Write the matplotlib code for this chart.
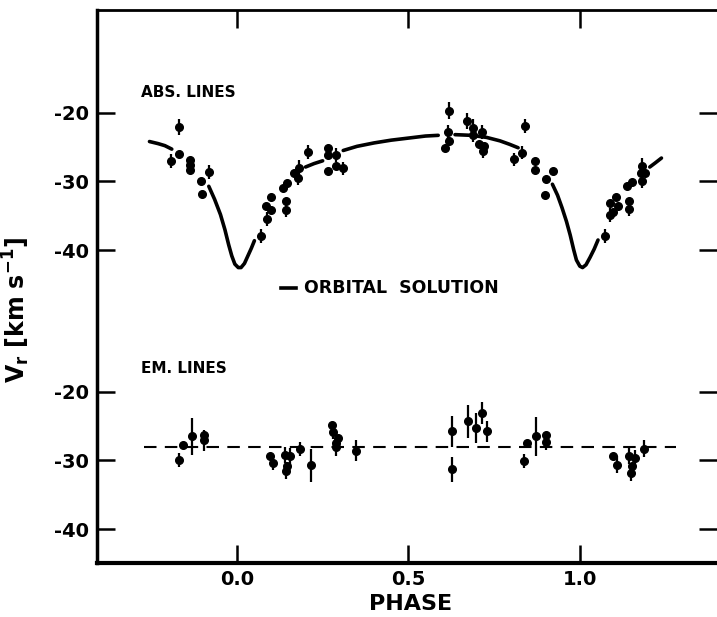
import numpy as np
import matplotlib
matplotlib.use("Agg")
import matplotlib.pyplot as plt

plt.rcParams["font.family"] = ["DejaVu Sans"]
plt.rcParams["font.weight"] = "bold"

# absorption lines: phase, velocity, error
abs_phase = [-0.192, -0.168, -0.170, -0.136, -0.137, -0.136, -0.105, -0.102, -0.081,
             0.070, 0.086, 0.088, 0.100, 0.100, 0.135, 0.145, 0.143, 0.143, 0.166,
             0.181, 0.178, 0.208, 0.266, 0.265, 0.266, 0.290, 0.290, 0.310,
             0.619, 0.616, 0.619, 0.606, 0.670, 0.689, 0.688, 0.716, 0.706, 0.720,
             0.718, 0.808, 0.830, 0.839, 0.869, 0.868, 0.900, 0.922, 0.899,
             1.072, 1.087, 1.097, 1.087, 1.105, 1.112, 1.139, 1.151, 1.142, 1.144,
             1.182, 1.178, 1.190, 1.182]
abs_v = [-27.0, -22.1, -26.0, -26.9, -27.6, -28.4, -29.9, -31.8, -28.6,
         -37.9, -33.5, -35.4, -32.3, -34.1, -30.9, -30.2, -32.9, -34.1, -28.8,
         -28.1, -29.5, -25.7, -25.2, -26.2, -28.5, -26.1, -27.8, -28.1,
         -19.7, -22.8, -24.1, -25.1, -21.2, -22.2, -23.3, -22.8, -24.5, -24.9,
         -25.6, -26.8, -25.8, -21.9, -27.0, -28.4, -29.6, -28.5, -31.9,
         -37.9, -34.9, -34.5, -33.1, -32.3, -33.6, -30.7, -30.1, -32.8, -34.0,
         -27.8, -28.8, -28.8, -30.0]
abs_err = [1.0, 1.2, 0, 0, 0, 0, 0, 0, 1.0,
           1.0, 0, 1.0, 0, 0, 0, 0, 0, 1.0, 0,
           1.2, 1.0, 1.0, 0, 0, 0, 1.0, 0, 1.0,
           1.2, 1.0, 0, 0, 1.2, 1.2, 1.0, 1.0, 0, 0,
           1.0, 1.0, 1.0, 1.0, 0, 0, 0, 0, 0,
           1.0, 1.0, 0, 0, 0, 0, 0, 0, 0, 1.0,
           1.2, 0, 0, 1.0]

# emission lines
em_phase = [-0.168, -0.157, -0.130, -0.097, -0.097, 0.096, 0.104, 0.140, 0.145, 0.143,
            0.155, 0.184, 0.217, 0.277, 0.279, 0.295, 0.290, 0.290, 0.346,
            0.626, 0.626, 0.675, 0.697, 0.714, 0.728, 0.837, 0.846, 0.873, 0.900,
            0.902, 1.097, 1.109, 1.144, 1.148, 1.151, 1.160, 1.187]
em_v = [-29.9, -27.8, -26.5, -26.3, -27.1, -29.4, -30.4, -29.2, -30.8, -31.5,
        -29.4, -28.3, -30.7, -24.9, -25.9, -26.8, -27.5, -28.1, -28.6,
        -25.8, -31.3, -24.3, -25.3, -23.1, -25.8, -30.1, -27.5, -26.5, -26.3,
        -27.3, -29.4, -30.6, -29.3, -31.8, -30.8, -29.7, -28.3]
em_err = [1.0, 0, 2.7, 0, 1.5, 0, 1.0, 1.2, 0, 1.2,
          1.2, 1.0, 2.4, 0, 1.0, 0, 0, 1.2, 1.5,
          2.2, 1.8, 2.4, 2.2, 1.6, 1.5, 1.0, 0, 2.8, 0,
          1.2, 0, 1.2, 1.2, 1.2, 0, 1.2, 1.2]
em_mean = -28.1
em_range = [-0.27, 1.28]

# orbital solution (None = gap)
orb_phase = [-0.255, -0.23, -0.21, -0.19, None,
             -0.082, -0.065, -0.048, -0.035, -0.024, -0.015, -0.006, 0.004, 0.012,
             0.022, 0.032, 0.042, 0.051, None,
             0.200, 0.225, 0.250, None,
             0.310, 0.35, 0.40, 0.45, 0.50, 0.55, 0.587, None,
             0.636, 0.684, 0.728, 0.767, 0.795, 0.820, None,
             0.920, 0.935, 0.948, 0.961, 0.972, 0.982, 0.990, 1.000, 1.008, 1.018,
             1.030, 1.042, 1.053, None,
             1.204, 1.22, 1.238]
orb_v = [-24.2, -24.5, -24.8, -25.3, None,
         -30.7, -32.6, -34.8, -37.0, -39.2, -40.8, -42.0, -42.5, -42.5,
         -41.9, -40.8, -39.7, -38.6, None,
         -27.9, -27.4, -27.0, None,
         -25.5, -24.9, -24.4, -24.0, -23.7, -23.4, -23.3, None,
         -23.2, -23.3, -23.6, -24.1, -24.6, -25.1, None,
         -30.4, -32.0, -33.8, -35.8, -37.8, -39.9, -41.4, -42.3, -42.5, -42.1,
         -41.0, -39.8, -38.5, None,
         -27.9, -27.3, -26.6]

ticks_v = [-20, -30, -40]
offset = -40.5  # lower panel shift

fig = plt.figure(figsize=(7.17, 6.17), dpi=100)
ax = fig.add_axes([0.1353, 0.0875, 0.8647, 0.8963])

ox = np.array([np.nan if p is None else p for p in orb_phase])
oy = np.array([np.nan if v is None else v for v in orb_v])
ax.plot(ox, oy, color="black", lw=2.6, solid_capstyle="round")

ax.errorbar(abs_phase, abs_v, yerr=abs_err, fmt="o", color="black", ms=5.5,
            elinewidth=1.6, capsize=0)

ax.plot(em_range, [em_mean + offset] * 2, color="black", lw=1.5, dashes=(6, 4))
ax.errorbar(em_phase, np.array(em_v) + offset, yerr=em_err, fmt="o", color="black",
            ms=5.5, elinewidth=1.6, capsize=0)

ax.text(-0.28, -17.1, "ABS. LINES", fontsize=11, fontweight="bold", va="center")
ax.text(-0.28, -57.2, "EM. LINES", fontsize=11, fontweight="bold", va="center")
ax.plot([0.128, 0.172], [-45.5, -45.5], color="black", lw=2.6)
ax.text(0.195, -45.5, "ORBITAL  SOLUTION", fontsize=12.5, fontweight="bold", va="center")

ax.set_xlim(-0.408, 1.40)
ax.set_ylim(-85.4, -5.1)
ax.set_xticks([0.0, 0.5, 1.0])
ax.set_xticklabels(["0.0", "0.5", "1.0"])
ax.set_yticks(ticks_v + [t + offset for t in ticks_v])
ax.set_yticklabels([str(t) for t in ticks_v] * 2)
ax.tick_params(direction="in", length=13, width=1.8, top=True, right=True,
               labelsize=14, pad=6)
ax.tick_params(axis="x", pad=5)
for lab in ax.get_xticklabels() + ax.get_yticklabels():
    lab.set_fontweight("bold")

ax.spines["right"].set_visible(False)
ax.spines["left"].set_linewidth(2.5)
ax.spines["bottom"].set_linewidth(3)
ax.spines["top"].set_linewidth(2)

ax.set_xlabel("PHASE", fontsize=16, fontweight="bold")
ax.xaxis.set_label_coords(0.506, -0.056)
ax.set_ylabel(r"$\mathbf{V_r\ [km\ s^{-1}]}$", fontsize=17)
ax.yaxis.set_label_coords(-0.105, 0.4575)

fig.savefig("out.png", dpi=100)
